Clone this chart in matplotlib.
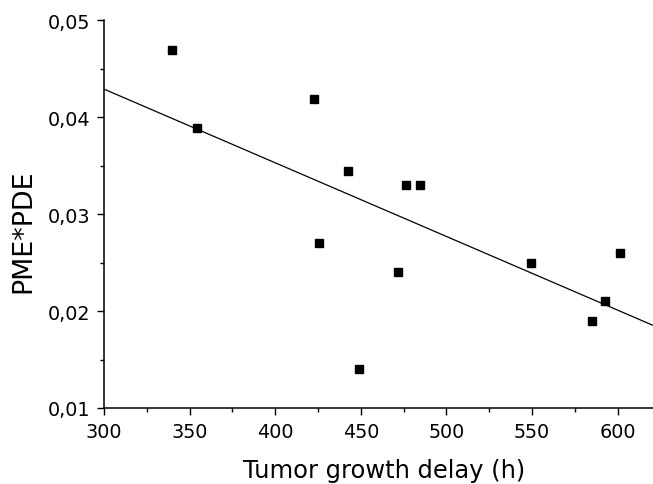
import matplotlib
matplotlib.use("Agg")
import matplotlib.pyplot as plt
import numpy as np
from matplotlib.ticker import MultipleLocator, FuncFormatter

plt.rcParams['font.family'] = ['DejaVu Sans']

delay_h = [339.5, 354.5, 422.8, 425.7, 442.5, 448.9, 471.7, 476.6, 484.6, 549.6, 584.8, 592.6, 601.5]
pme_pde = [0.0469, 0.0389, 0.0419, 0.0270, 0.0345, 0.0140, 0.0240, 0.0330, 0.0330, 0.0250, 0.0190, 0.0210, 0.0260]

fit_intercept_at_300 = 0.0429
fit_slope = -7.6e-5
fit_x = [300, 620.7]

fig = plt.figure(figsize=(6.53, 4.85), dpi=100)
ax = fig.add_axes([104/653, 76/485, 1 - 104/653, (409 - 21.3)/485])

fx = np.array(fit_x)
ax.plot(fx, fit_intercept_at_300 + fit_slope * (fx - 300), color='black', lw=0.9, solid_capstyle='butt')
ax.plot(delay_h, pme_pde, linestyle='none', marker='s', markersize=6.2, color='black')

ax.set_xlim(300, 620.7)
ax.set_ylim(0.01, 0.05)
ax.xaxis.set_major_locator(MultipleLocator(50))
ax.xaxis.set_minor_locator(MultipleLocator(25))
ax.yaxis.set_major_locator(MultipleLocator(0.01))
ax.yaxis.set_minor_locator(MultipleLocator(0.005))
ax.yaxis.set_major_formatter(FuncFormatter(lambda v, p: f"{v:.2f}".replace('.', ',')))

for s in ['top', 'right']:
    ax.spines[s].set_visible(False)
for s in ['left', 'bottom']:
    ax.spines[s].set_linewidth(1.1)
    ax.spines[s].set_clip_on(False)

ax.tick_params(which='major', direction='out', length=5, width=1.0, labelsize=13.8, pad=5)
ax.tick_params(which='minor', direction='out', length=3, width=1.0)

ax.set_xlabel('Tumor growth delay (h)', fontsize=17.4, va='center')
ax.set_ylabel('PME*PDE', fontsize=19.4, va='center')
ax.xaxis.set_label_coords((384 - 104) / 549, (409 - 471) / 387.7)
ax.yaxis.set_label_coords((23 - 104) / 549, (409 - 231.5) / 387.7)

fig.savefig('out.png', dpi=100)
